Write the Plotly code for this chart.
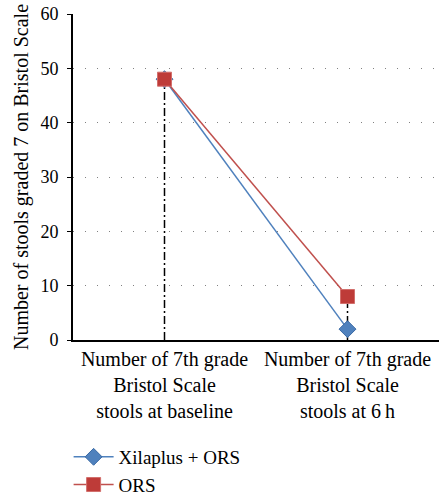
import plotly.graph_objects as go

categories = ["Number of 7th grade<br>Bristol Scale<br>stools at baseline",
              "Number of 7th grade<br>Bristol Scale<br>stools at 6\u2009h"]
xilaplus = [48, 2]
ors = [48, 8]
y_ticks = [0, 10, 20, 30, 40, 50, 60]

FONT = "'Liberation Serif', 'Times New Roman', 'DejaVu Serif', serif"

fig = go.Figure()

# drop lines from highest value to axis
for i, c in enumerate(categories):
    top = max(xilaplus[i], ors[i])
    fig.add_trace(go.Scatter(x=[c, c], y=[0, top], mode="lines",
                             line=dict(color="black", width=1.5, dash="8px,3px,2px,3px"),
                             showlegend=False, hoverinfo="skip"))

fig.add_trace(go.Scatter(x=categories, y=xilaplus, mode="lines+markers",
                         name="Xilaplus + ORS",
                         line=dict(color="#4F81BD", width=1.5),
                         marker=dict(symbol="diamond", size=13, color="#4F81BD",
                                     line=dict(color="#3A6AA5", width=1))))
fig.add_trace(go.Scatter(x=categories, y=ors, mode="lines+markers",
                         name="ORS",
                         line=dict(color="#C0504D", width=1.5),
                         marker=dict(symbol="square", size=14, color="#BE3B38",
                                     line=dict(color="#D26F6C", width=1))))

fig.update_layout(
    width=439, height=496,
    margin=dict(l=73, r=0, t=14, b=156, autoexpand=False),
    paper_bgcolor="white", plot_bgcolor="white",
    font=dict(family=FONT, size=19, color="black"),
    showlegend=True,
    legend=dict(x=-0.012, y=0.117, xanchor="left", yanchor="top",
                yref="container",
                orientation="v", bgcolor="rgba(0,0,0,0)", itemwidth=40,
                font=dict(family=FONT, size=19), tracegroupgap=0),
    xaxis=dict(type="category", range=[-0.5, 1.5], showline=True,
               linecolor="black", linewidth=2, showgrid=False, ticks="",
               tickfont=dict(family=FONT, size=20)),
    yaxis=dict(range=[0, 60], tickvals=y_ticks, showline=True,
               linecolor="black", linewidth=2, ticks="outside", ticklen=4,
               tickcolor="black", showgrid=True, gridcolor="#808080",
               griddash="1px,11px", gridwidth=1, zeroline=False,
               ticklabelstandoff=5,
               tickfont=dict(family=FONT, size=18),
               title=dict(text="Number of stools graded 7 on Bristol Scale",
                          font=dict(family=FONT, size=20), standoff=6)),
)

fig.write_html("out.html")
